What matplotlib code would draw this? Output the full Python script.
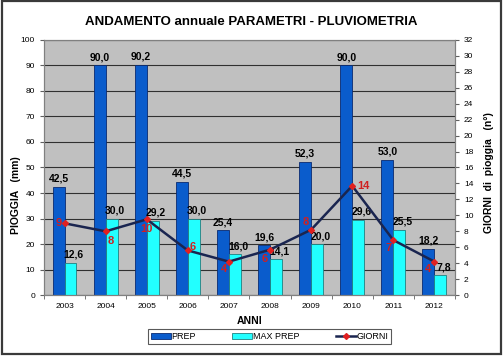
import matplotlib.pyplot as plt
import numpy as np
from matplotlib.patches import Rectangle

plt.rcParams['font.family'] = ['Liberation Sans', 'DejaVu Sans']

anni = ["2003", "2004", "2005", "2006", "2007", "2008", "2009", "2010", "2011", "2012"]
prep = [42.5, 90.0, 90.2, 44.5, 25.4, 19.6, 52.3, 90.0, 53.0, 18.2]
max_prep = [12.6, 30.0, 29.2, 30.0, 16.0, 14.1, 20.0, 29.6, 25.5, 7.8]
giorni = [9.0, 8.0, 9.5, 5.6, 4.2, 5.7, 8.2, 13.7, 6.9, 4.2]

# spostamento etichette della linea (pixel)
lab_off = [(-6, 0), (5, -10), (0, -10), (5, 3), (-5, -7),
           (-5, -9), (-5, 8), (11, 0), (-5, -8), (-6, -7)]

fig = plt.figure(figsize=(5.03, 3.56), dpi=100)
fig.patch.set_facecolor("white")
fig.patches.append(Rectangle((0.003, 0.006), 0.994, 0.99, transform=fig.transFigure,
                             fill=False, edgecolor="#3a3a3a", linewidth=1.6))

ax = fig.add_axes([0.0875, 0.171, 0.817, 0.717])
ax.set_facecolor("#c0c0c0")
x = np.arange(len(anni))
w = 0.29
b1 = ax.bar(x - w / 2, prep, w, color="#0a5ccc", edgecolor="#0a2a70", linewidth=0.6,
            label="PREP", zorder=2)
b2 = ax.bar(x + w / 2, max_prep, w, color="#22ffff", edgecolor="#208080", linewidth=0.6,
            label="MAX PREP", zorder=2)

for xi, v in zip(x - w / 2, prep):
    ax.text(xi, v + 1.2, f"{v:.1f}".replace(".", ","), ha="center", va="bottom",
            fontsize=7.5, fontweight="bold", zorder=5)
for xi, v in zip(x + w / 2, max_prep):
    ax.text(xi + 0.08, v + 1.2, f"{v:.1f}".replace(".", ","), ha="center", va="bottom",
            fontsize=7.5, fontweight="bold", zorder=5)

ax.set_xlim(-0.5, len(anni) - 0.5)
ax.set_ylim(0, 100)
ax.set_yticks(range(0, 101, 10))
ax.yaxis.grid(True, color="#303030", linewidth=0.8, zorder=1)
ax.set_axisbelow(True)
ax.set_xticks(x)
ax.set_xticklabels(anni, fontsize=6)
ax.set_xticks(np.arange(-0.5, len(anni)), minor=True)
ax.tick_params(axis="x", which="major", length=0, pad=6)
ax.tick_params(axis="x", which="minor", length=3, color="#606060")
ax.tick_params(axis="y", labelsize=6, length=3, color="#606060")
for s in ax.spines.values():
    s.set_color("#808080")
ax.set_ylabel("PIOGGIA   (mm)", fontsize=7.5, fontweight="bold")
ax.yaxis.set_label_coords(-0.055, 0.39)
ax.set_xlabel("ANNI", fontsize=7.5, fontweight="bold", labelpad=4)

ax2 = ax.twinx()
ln, = ax2.plot(x, giorni, color="#1a2550", linewidth=1.8, marker="D", markersize=3,
               markerfacecolor="#e02020", markeredgecolor="#e02020", label="GIORNI", zorder=4)
ax2.set_ylim(0, 32)
ax2.set_yticks(range(0, 33, 2))
ax2.tick_params(axis="y", labelsize=6, length=3, color="#606060")
for s in ax2.spines.values():
    s.set_color("#808080")
ax2.set_ylabel("GIORNI  di  pioggia   (n°)", fontsize=7.5, fontweight="bold")
ax2.yaxis.set_label_coords(1.07, 0.48)
for xi, v, (dx, dy) in zip(x, giorni, lab_off):
    ax2.annotate(f"{v:.0f}", (xi, v), xytext=(dx, dy), textcoords="offset pixels",
                 ha="center", va="center", color="#d02020", fontsize=8, fontweight="bold")

fig.text(0.5, 0.937, "ANDAMENTO annuale PARAMETRI - PLUVIOMETRIA", ha="center",
         va="center", fontsize=9.5, fontweight="bold")

leg = fig.legend([b1, b2, ln], ["PREP", "MAX PREP", "GIORNI"], loc="center",
                 bbox_to_anchor=(0.536, 0.055), ncol=3, fontsize=6.5, frameon=True,
                 fancybox=False, edgecolor="#303030", handlelength=2.2, handleheight=0.6,
                 handletextpad=0.1, columnspacing=4.0, borderpad=0.35)
leg.get_frame().set_linewidth(0.8)

fig.savefig("out.png", dpi=100)
